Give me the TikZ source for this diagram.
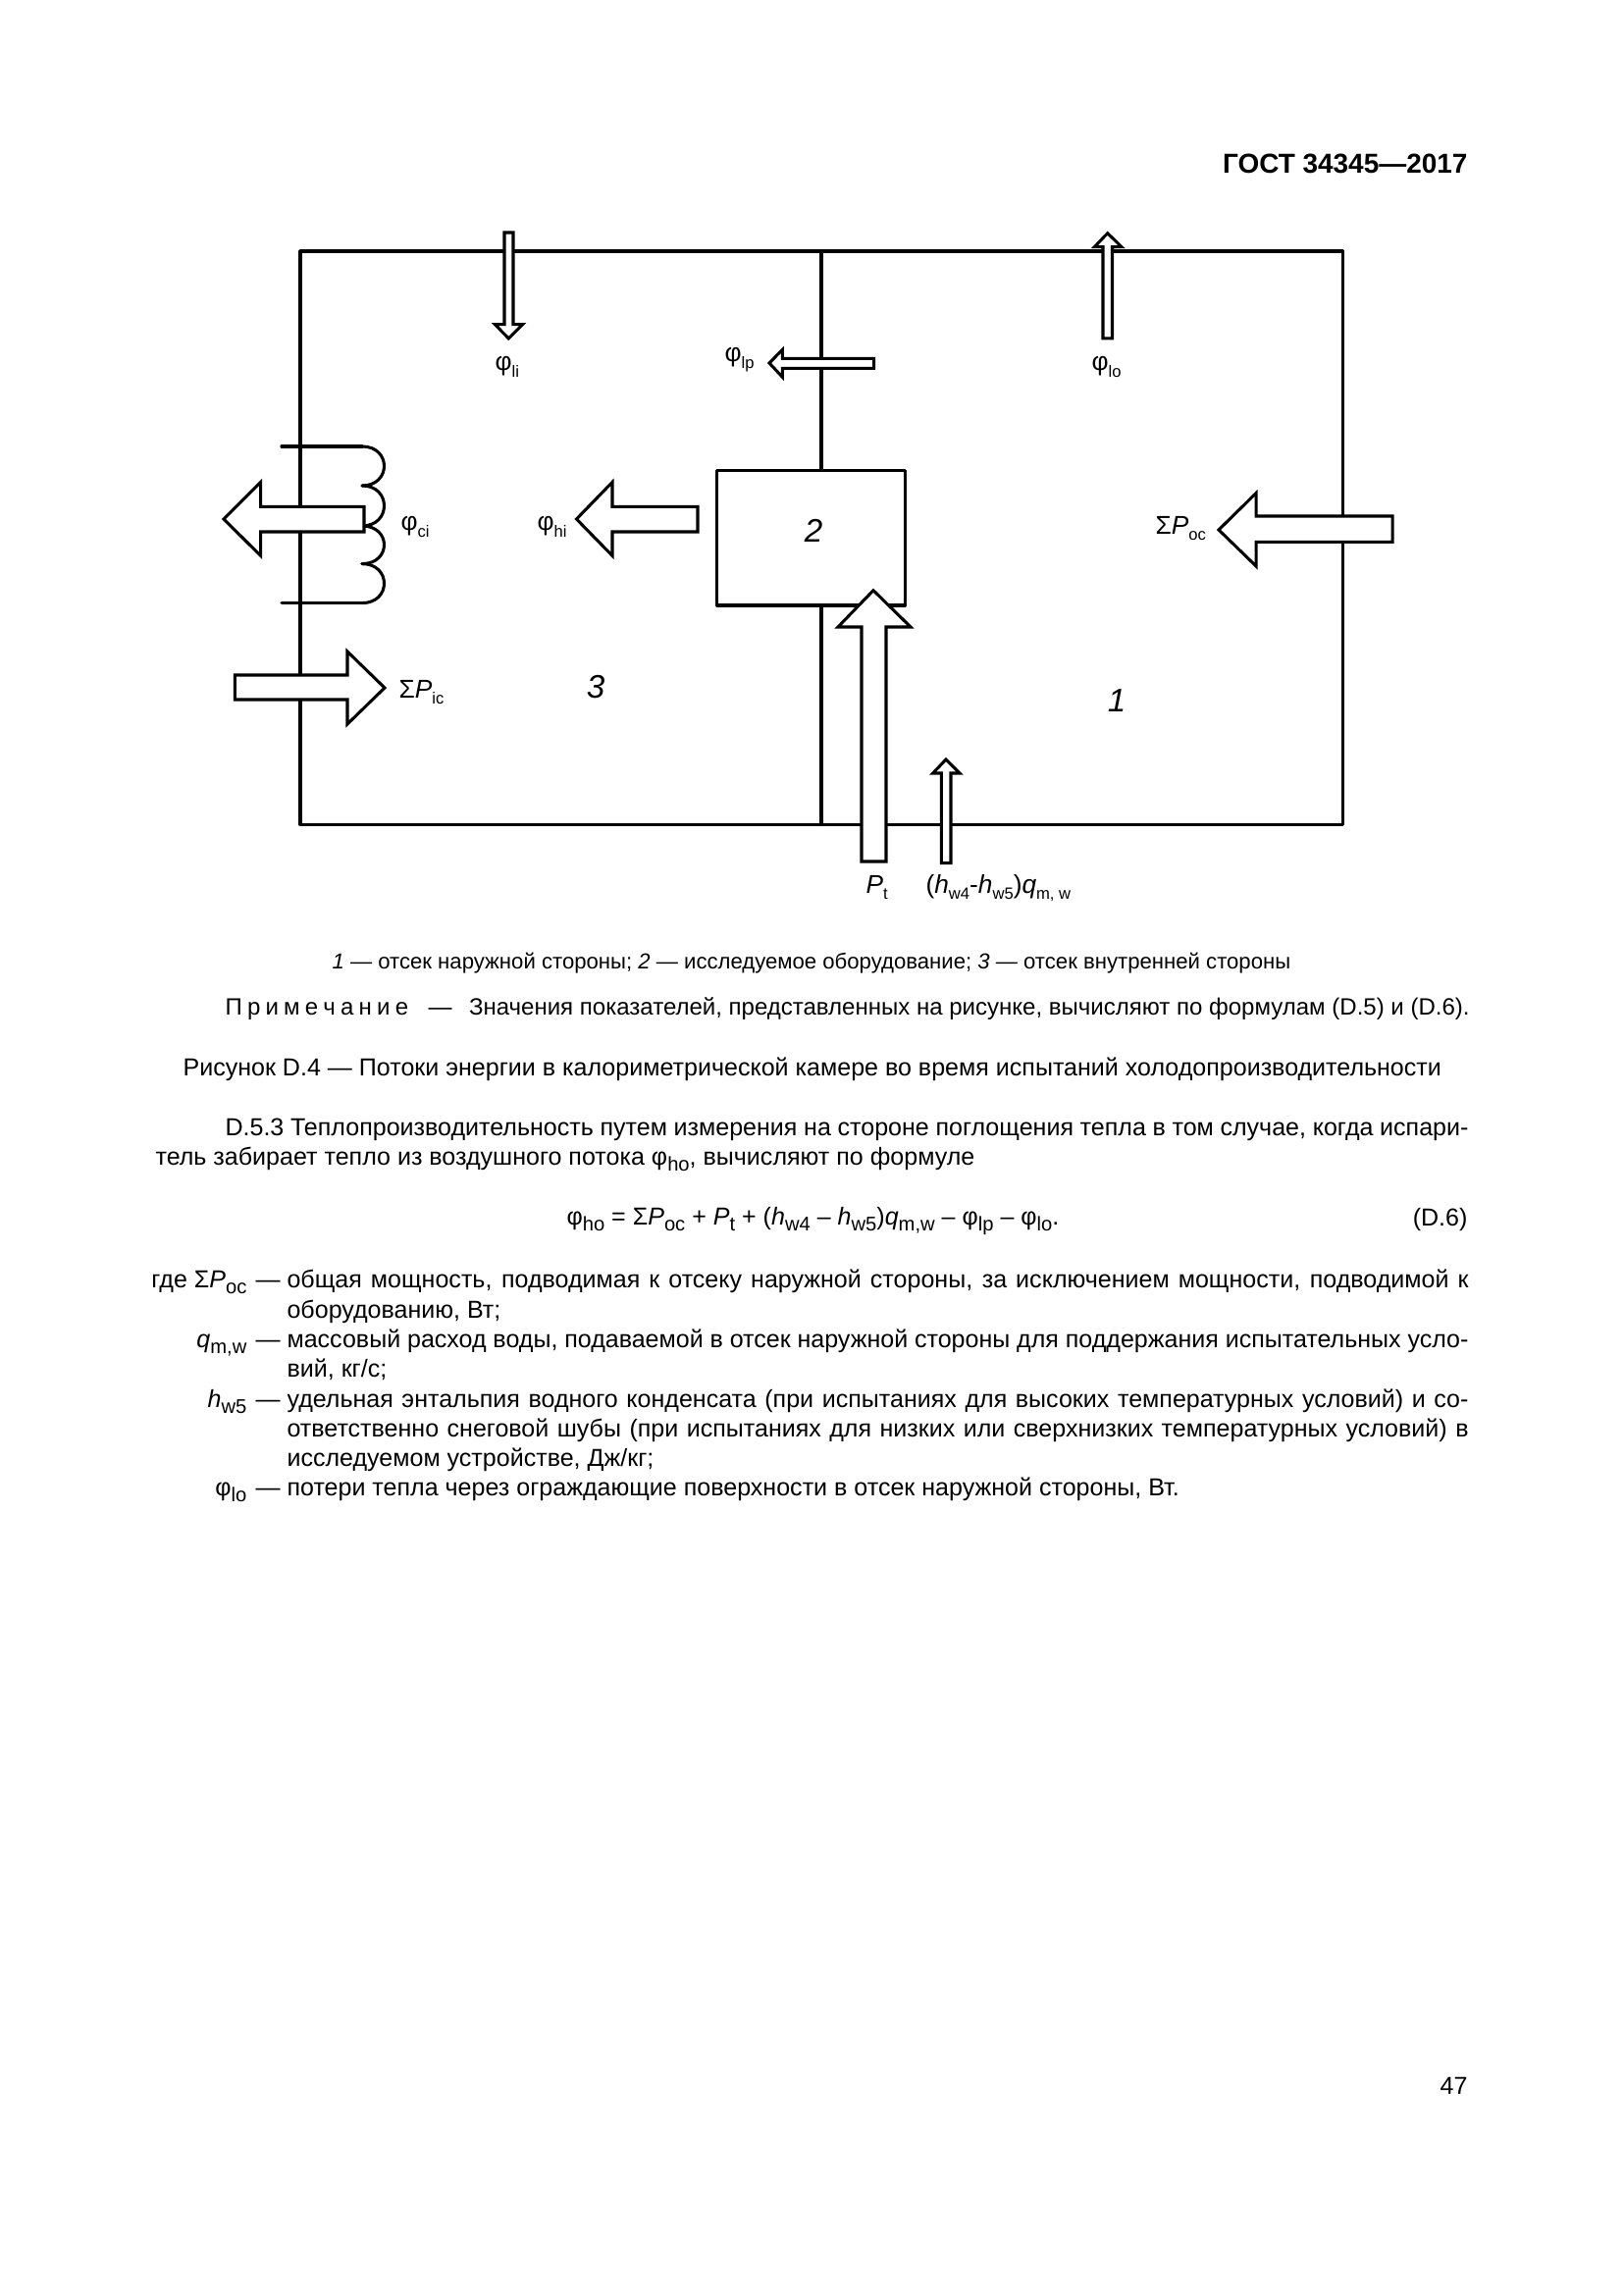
\documentclass[tikz,border=0pt]{standalone}
\usepackage{fontspec}
\setmainfont{Liberation Sans}
\usetikzlibrary{positioning,calc}
\newcommand{\subf}[1]{\raisebox{-0.45ex}{\fontsize{6}{7}\selectfont #1}}
\newcommand{\subt}[1]{\raisebox{-0.5ex}{\fontsize{7.3}{9}\selectfont #1}}
\newcommand{\jl}[1]{\hbox to 152.9mm{#1}}
\newcommand{\jw}[1]{\hbox to 160.9mm{#1}}
\tikzset{
  wall/.style  ={draw=black, line width=1.1pt, line cap=round, line join=round},
  flow/.style  ={wall, fill=white, line join=miter},
  lab/.style   ={anchor=base west, inner sep=0pt, font=\fontsize{9.5}{11}\selectfont},
  num/.style   ={inner sep=0pt, font=\fontsize{12}{14}\selectfont\itshape},
  txt/.style   ={anchor=base west, inner sep=0pt, font=\fontsize{9.05}{11}\selectfont},
  rtxt/.style  ={anchor=base east, inner sep=0pt, font=\fontsize{9.05}{11}\selectfont},
  ntxt/.style  ={txt, font=\fontsize{8.68}{11}\selectfont},
}
\begin{document}
\begin{tikzpicture}[x=0.127mm,y=-0.127mm]
    \useasboundingbox[fill=white] (0,0) rectangle (1654,2339);
    \node[rtxt,font=\fontsize{10.1}{13}\selectfont\bfseries] (head) at (1496,177) {ГОСТ 34345—2017};
    % chamber
    \coordinate (tl) at (306,256);
    \coordinate (tr) at (1368,256);
    \coordinate (br) at (1368,840.5);
    \coordinate (bl) at (306,840.5);
    \coordinate (mt) at (837,256);
    \coordinate (mb) at (837,840.5);
    \draw[wall] (tl)--(tr)--(br)--(bl)--cycle;
    \node[draw,wall,fill=white,minimum width=24.35mm,minimum height=17.45mm,inner sep=0pt] (box) at (826.6,548.3) {};
    \draw[wall] (mt)--(mt|-box.north);
    \draw[wall] (mt|-box.south)--(mb);
    % coil
    \draw[wall] (287,455)--(369,455);
    \draw[wall] (287,614.6)--(369,614.6);
    \foreach \ya/\yb in {455/495,495/536,536/574.6,574.6/614.6}
      \draw[wall] (369,\ya) .. controls (399,\ya) and (399,\yb) .. (369,\yb);
    % arrows
    \draw[flow] (514,237)--(523,237)--(523,330.7)--(532.6,330.7)--(518.3,345)--(504.5,330.7)--(514,330.7)--cycle;
    \draw[flow] (1124,344.8)--(1133.5,344.8)--(1133.5,251.7)--(1143,251.7)--(1128.7,237.7)--(1115.3,251.7)--(1124,251.7)--cycle;
    \draw[flow] (890.6,365.4)--(890.6,375.4)--(797.3,375.4)--(797.3,384.3)--(784,370)--(797.3,356.4)--(797.3,365.4)--cycle;
    \draw[flow] (371,516.4)--(371,542)--(265.6,542)--(265.6,566.4)--(228,529)--(265.6,491.4)--(265.6,516.4)--cycle;
    \draw[flow] (711,516.4)--(711,542)--(624,542)--(624,566.4)--(587.5,529)--(624,491.4)--(624,516.4)--cycle;
    \draw[flow] (239.3,688)--(354,688)--(354,664)--(392,701)--(354,738)--(354,713)--(239.3,713)--cycle;
    \draw[flow] (1419,526)--(1419,552.4)--(1280,552.4)--(1280,577)--(1242,540)--(1280,502.6)--(1280,526)--cycle;
    \draw[flow] (878,878)--(903,878)--(903,639)--(928,639)--(890,601.7)--(854,639)--(878,639)--cycle;
    \draw[flow] (959.3,879.7)--(969,879.7)--(969,788)--(978,788)--(964,774)--(950.7,788)--(959.3,788)--cycle;
    % labels
    \node[lab] (li) at (504,378) {φ\subf{li}};
    \node[lab] (lp) at (738,369) {φ\subf{lp}};
    \node[lab] (lo) at (1112,378) {φ\subf{lo}};
    \node[lab] (ci) at (408,541) {φ\subf{ci}};
    \node[lab] (hi) at (547,541) {φ\subf{hi}};
    \node[lab] (pic) at (406,711) {Σ\textit{P}\subf{ic}};
    \node[lab] (poc) at (1177,544.5) {Σ\textit{P}\subf{oc}};
    \node[lab] (pt) at (882,910) {\textit{P}\subf{t}};
    \node[lab] (hq) at (943,910) {(\textit{h}\subf{w4}-\textit{h}\subf{w5})\textit{q}\subf{m, w}};
    \node[num] (n1) at (1138,714) {1};
    \node[num] (n2) at (829,541) {2};
    \node[num] (n3) at (607,700) {3};
    % text
    \node[txt,font=\fontsize{8}{10}\selectfont] (capt) at (338,987) {\textit{1} — отсек наружной стороны; \textit{2} — исследуемое оборудование; \textit{3} — отсек внутренней стороны};
    \node[ntxt] (note) at (229,1034) {\hbox to 23.7mm{П р и м е ч а н и е}};
    \node[ntxt] (notd) at (436,1034) {—};
    \node[ntxt] (nott) at (477.5,1034) {Значения показателей, представленных на рисунке, вычисляют по формулам (D.5) и (D.6).};
    \node[txt] (fig) at (186,1096) {Рисунок D.4 — Потоки энергии в калориметрической камере во время испытаний холодопроизводительности};
    \node[txt] (p1) at (229,1157) {\jw{D.5.3 Теплопроизводительность путем измерения на стороне поглощения тепла в том случае, когда испари-}};
    \node[txt] (p2) at (158,1187) {тель забирает тепло из воздушного потока φ\subt{ho}, вычисляют по формуле};
    \node[txt] (eq) at (577,1248) {φ\subt{ho} = Σ\textit{P}\subt{oc} + \textit{P}\subt{t} + (\textit{h}\subt{w4} – \textit{h}\subt{w5})\textit{q}\subt{m,w} – φ\subt{lp} – φ\subt{lo}.};
    \node[rtxt] (eqn) at (1496,1249.5) {(D.6)};
    \node[rtxt] (s1) at (252,1312) {где Σ\textit{P}\subt{oc}};
    \node[txt] (d1) at (260,1312) {—};
    \node[txt] (t1) at (292,1312) {\jl{общая мощность, подводимая к отсеку наружной стороны, за исключением мощности, подводимой к}};
    \node[txt] (t1b) at (292,1343) {оборудованию, Вт;};
    \node[rtxt] (s2) at (252,1373) {\textit{q}\subt{m,w}};
    \node[txt] (d2) at (260,1373) {—};
    \node[txt] (t2) at (292,1373) {\jl{массовый расход воды, подаваемой в отсек наружной стороны для поддержания испытательных усло-}};
    \node[txt] (t2b) at (292,1403) {вий, кг/с;};
    \node[rtxt] (s3) at (252,1434) {\textit{h}\subt{w5}};
    \node[txt] (d3) at (260,1434) {—};
    \node[txt] (t3) at (292,1434) {\jl{удельная энтальпия водного конденсата (при испытаниях для высоких температурных условий) и со-}};
    \node[txt] (t3b) at (292,1464) {\jl{ответственно снеговой шубы (при испытаниях для низких или сверхнизких температурных условий) в}};
    \node[txt] (t3c) at (292,1494) {исследуемом устройстве, Дж/кг;};
    \node[rtxt] (s4) at (252,1524) {φ\subt{lo}};
    \node[txt] (d4) at (260,1524) {—};
    \node[txt] (t4) at (292,1524) {потери тепла через ограждающие поверхности в отсек наружной стороны, Вт.};
    \node[rtxt] (page) at (1496,2134) {47};
\end{tikzpicture}
\end{document}
